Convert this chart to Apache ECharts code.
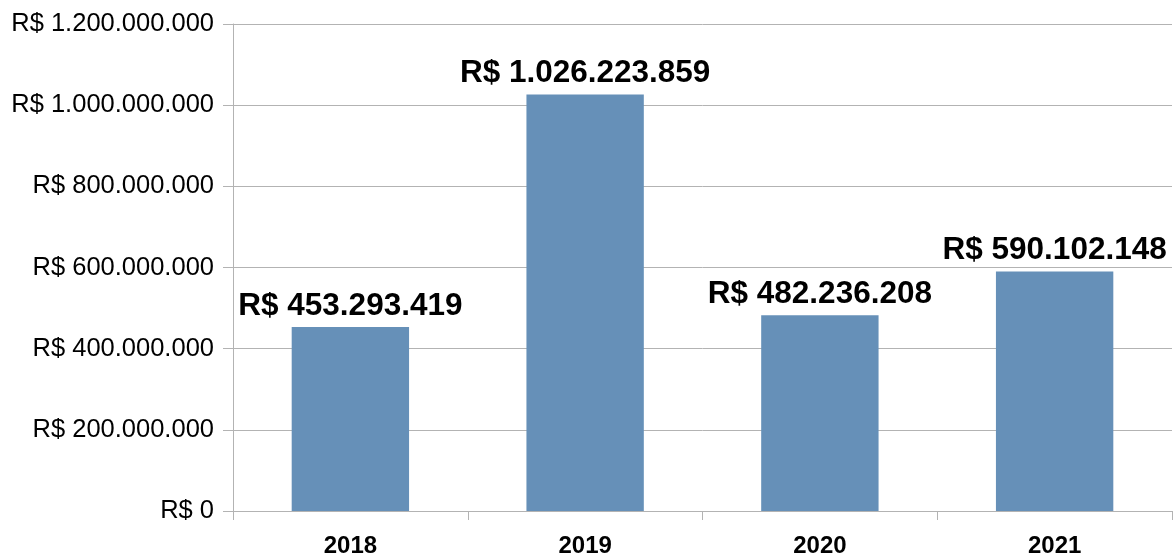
<!DOCTYPE html>
<html>
<head>
<meta charset="utf-8">
<script src="https://cdn.jsdelivr.net/npm/echarts@6/dist/echarts.min.js"></script>
<style>
  html, body { margin: 0; padding: 0; background: #fff; }
  #chart { width: 1174px; height: 559px; }
</style>
</head>
<body>
<div id="chart"></div>
<script>
// dados do gráfico
const anos = ['2018', '2019', '2020', '2021']
const valores = [453293419, 1026223859, 482236208, 590102148]

// formato brasileiro: R$ 1.234.567
function reais(v) {
  return 'R$ ' + String(Math.round(v)).replace(/\B(?=(\d{3})+(?!\d))/g, '.')
}

const chart = echarts.init(document.getElementById('chart'))
const cinza = '#b3b3b3'

chart.setOption({
  animation: false,
  grid: { left: 233, right: 2, top: 24, bottom: 48 },
  xAxis: {
    type: 'category',
    data: anos,
    axisLine: { lineStyle: { color: cinza } },
    axisTick: { show: true, length: 9, lineStyle: { color: cinza } },
    axisLabel: {
      margin: 23,
      fontFamily: 'Liberation Sans',
      fontWeight: 'bold',
      fontSize: 24,
      color: '#000'
    }
  },
  yAxis: {
    type: 'value',
    min: 0,
    max: 1200000000,
    interval: 200000000,
    axisLine: { show: true, lineStyle: { color: cinza } },
    axisTick: { show: true, length: 10, lineStyle: { color: cinza } },
    splitLine: { lineStyle: { color: cinza } },
    axisLabel: {
      margin: 19,
      fontFamily: 'Liberation Sans',
      fontSize: 25.5,
      color: '#000',
      formatter: reais
    }
  },
  series: [{
    type: 'bar',
    data: valores,
    barWidth: '50%',
    itemStyle: { color: '#6690b8' },
    label: {
      show: true,
      position: 'top',
      distance: 5,
      fontFamily: 'Liberation Sans',
      fontWeight: 'bold',
      fontSize: 31.5,
      color: '#000',
      formatter: p => reais(p.value)
    }
  }]
})
</script>
</body>
</html>
